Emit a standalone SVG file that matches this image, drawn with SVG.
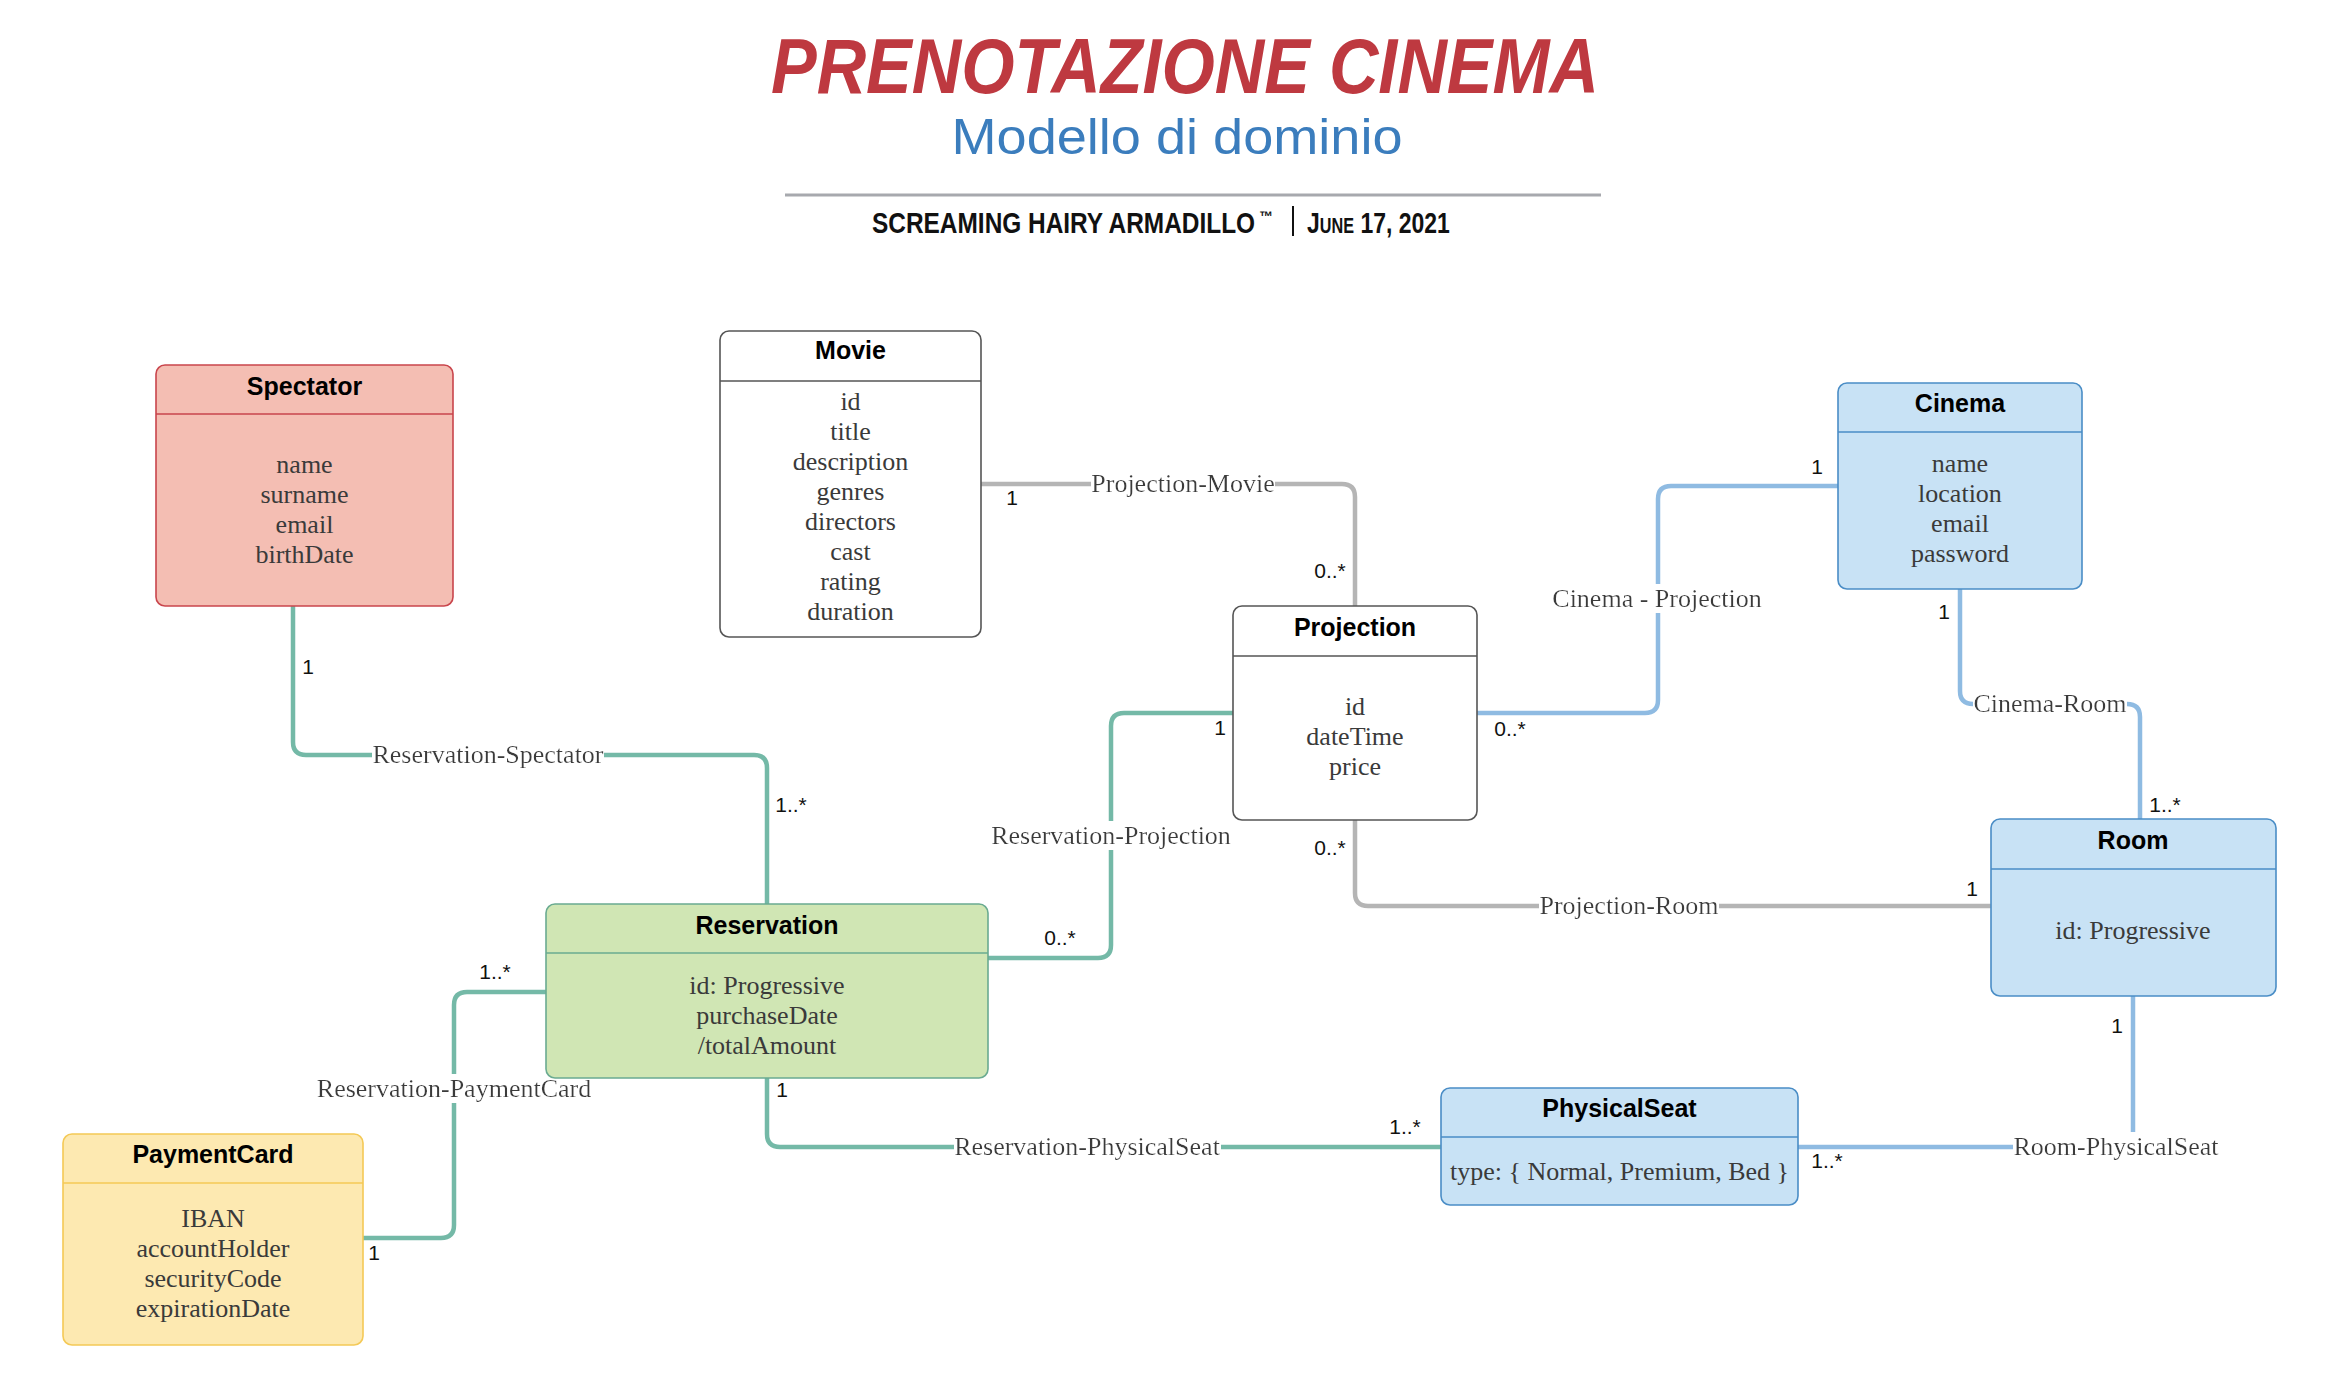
<svg xmlns="http://www.w3.org/2000/svg" width="2348" height="1382" viewBox="0 0 2348 1382">
<style>
.ttl{font-family:"Liberation Sans",Arial,sans-serif;font-weight:bold;font-size:25px;fill:#000;text-anchor:middle}
.att{font-family:"Liberation Serif","Times New Roman",serif;font-size:26px;fill:#3a3a3a;text-anchor:middle}
.lbl{font-family:"Liberation Serif","Times New Roman",serif;font-size:26px;fill:#3a3a3a;text-anchor:middle}
.mul{font-family:"Liberation Sans",Arial,sans-serif;font-size:21px;fill:#111;text-anchor:middle}
.c{fill:none;stroke-width:4.5}
.teal{stroke:#74b9a7}
.grey{stroke:#b5b5b5}
.blue{stroke:#8fbbe2}
.red{fill:#f4beb3;stroke:#c9454c}
.wht{fill:#fff;stroke:#555}
.bl{fill:#c8e2f5;stroke:#4a8dc6}
.grn{fill:#d0e6b4;stroke:#6aab91}
.yel{fill:#fde9b1;stroke:#f4c956}
.box{stroke-width:1.6}
.sub{font-family:"Liberation Sans",Arial,sans-serif;font-weight:bold;fill:#111}
</style>
<defs>
<filter id="bg" x="0" y="0" width="1" height="1"><feFlood flood-color="#ffffff"/><feComposite in="SourceGraphic" operator="over"/></filter>
</defs>
<rect width="2348" height="1382" fill="#fff"/>

<g id="header">
<text x="1185" y="93" font-family="Liberation Sans,Arial,sans-serif" font-weight="bold" font-style="italic" font-size="78" fill="#be3940" text-anchor="middle" textLength="828" lengthAdjust="spacingAndGlyphs">PRENOTAZIONE CINEMA</text>
<text x="1177" y="154" font-family="Liberation Sans,Arial,sans-serif" font-size="50" fill="#3b7dbd" text-anchor="middle" textLength="451" lengthAdjust="spacingAndGlyphs">Modello di dominio</text>
<line x1="785" y1="195" x2="1601" y2="195" stroke="#a7a9ae" stroke-width="3"/>
<g transform="translate(872,233) scale(0.81,1)"><text class="sub" x="0" y="0" font-size="30" textLength="473" lengthAdjust="spacingAndGlyphs">SCREAMING HAIRY ARMADILLO</text></g>
<text class="sub" x="1259" y="221" font-size="14">™</text>
<line x1="1293" y1="206" x2="1293" y2="236" stroke="#111" stroke-width="2"/>
<g transform="translate(1307,233) scale(0.78,1)"><text class="sub" x="0" y="0" font-size="30" font-variant="small-caps" textLength="183" lengthAdjust="spacingAndGlyphs">June 17, 2021</text></g>
</g>

<g id="connectors">
<path class="c grey" d="M981,484 H1342 Q1355,484 1355,497 V606"/>
<path class="c grey" d="M1355,820 V893 Q1355,906 1368,906 H1991"/>
<path class="c blue" d="M1838,486 H1671 Q1658,486 1658,499 V700 Q1658,713 1645,713 H1477"/>
<path class="c blue" d="M1960,589 V691 Q1960,704 1973,704 H2127 Q2140,704 2140,717 V819"/>
<path class="c blue" d="M2133,996 V1134 Q2133,1147 2120,1147 H1798"/>
<path class="c teal" d="M767,1078 V1134 Q767,1147 780,1147 H1441"/>
<path class="c teal" d="M293,606 V742 Q293,755 306,755 H754 Q767,755 767,768 V904"/>
<path class="c teal" d="M988,958 H1098 Q1111,958 1111,945 V726 Q1111,713 1124,713 H1233"/>
<path class="c teal" d="M546,992 H467 Q454,992 454,1005 V1225 Q454,1238 441,1238 H363"/>

<text class="lbl" filter="url(#bg)" x="1183" y="492">Projection-Movie</text>
<text class="lbl" filter="url(#bg)" x="1629" y="914">Projection-Room</text>
<text class="lbl" filter="url(#bg)" x="1657" y="607">Cinema - Projection</text>
<text class="lbl" filter="url(#bg)" x="2050" y="712">Cinema-Room</text>
<text class="lbl" filter="url(#bg)" x="2116" y="1155">Room-PhysicalSeat</text>
<text class="lbl" filter="url(#bg)" x="1087" y="1155">Reservation-PhysicalSeat</text>
<text class="lbl" filter="url(#bg)" x="488" y="763">Reservation-Spectator</text>
<text class="lbl" filter="url(#bg)" x="1111" y="844">Reservation-Projection</text>
<text class="lbl" filter="url(#bg)" x="454" y="1097">Reservation-PaymentCard</text>

<text class="mul" x="1012" y="505">1</text>
<text class="mul" x="1330" y="578">0..*</text>
<text class="mul" x="1330" y="855">0..*</text>
<text class="mul" x="1972" y="896">1</text>
<text class="mul" x="1817" y="474">1</text>
<text class="mul" x="1510" y="736">0..*</text>
<text class="mul" x="1944" y="619">1</text>
<text class="mul" x="2165" y="812">1..*</text>
<text class="mul" x="2117" y="1033">1</text>
<text class="mul" x="1827" y="1168">1..*</text>
<text class="mul" x="782" y="1097">1</text>
<text class="mul" x="1405" y="1134">1..*</text>
<text class="mul" x="308" y="674">1</text>
<text class="mul" x="791" y="812">1..*</text>
<text class="mul" x="1060" y="945">0..*</text>
<text class="mul" x="1220" y="735">1</text>
<text class="mul" x="495" y="979">1..*</text>
<text class="mul" x="374" y="1260">1</text>
</g>

<g id="Spectator">
<rect class="box red" x="156" y="365" width="297" height="241" rx="9"/>
<line class="red" x1="156" y1="414" x2="453" y2="414" stroke-width="1.6"/>
<text class="ttl" x="304.5" y="395">Spectator</text>
<text class="att" x="304.5" y="473">name</text>
<text class="att" x="304.5" y="503">surname</text>
<text class="att" x="304.5" y="533">email</text>
<text class="att" x="304.5" y="563">birthDate</text>
</g>

<g id="Movie">
<rect class="box wht" x="720" y="331" width="261" height="306" rx="9"/>
<line class="wht" x1="720" y1="381" x2="981" y2="381" stroke-width="1.6"/>
<text class="ttl" x="850.5" y="359">Movie</text>
<text class="att" x="850.5" y="410">id</text>
<text class="att" x="850.5" y="440">title</text>
<text class="att" x="850.5" y="470">description</text>
<text class="att" x="850.5" y="500">genres</text>
<text class="att" x="850.5" y="530">directors</text>
<text class="att" x="850.5" y="560">cast</text>
<text class="att" x="850.5" y="590">rating</text>
<text class="att" x="850.5" y="620">duration</text>
</g>

<g id="Projection">
<rect class="box wht" x="1233" y="606" width="244" height="214" rx="9"/>
<line class="wht" x1="1233" y1="656" x2="1477" y2="656" stroke-width="1.6"/>
<text class="ttl" x="1355" y="636">Projection</text>
<text class="att" x="1355" y="715">id</text>
<text class="att" x="1355" y="745">dateTime</text>
<text class="att" x="1355" y="775">price</text>
</g>

<g id="Cinema">
<rect class="box bl" x="1838" y="383" width="244" height="206" rx="9"/>
<line class="bl" x1="1838" y1="432" x2="2082" y2="432" stroke-width="1.6"/>
<text class="ttl" x="1960" y="412">Cinema</text>
<text class="att" x="1960" y="472">name</text>
<text class="att" x="1960" y="502">location</text>
<text class="att" x="1960" y="532">email</text>
<text class="att" x="1960" y="562">password</text>
</g>

<g id="Room">
<rect class="box bl" x="1991" y="819" width="285" height="177" rx="9"/>
<line class="bl" x1="1991" y1="869" x2="2276" y2="869" stroke-width="1.6"/>
<text class="ttl" x="2133" y="849">Room</text>
<text class="att" x="2133" y="939">id: Progressive</text>
</g>

<g id="Reservation">
<rect class="box grn" x="546" y="904" width="442" height="174" rx="9"/>
<line class="grn" x1="546" y1="953" x2="988" y2="953" stroke-width="1.6"/>
<text class="ttl" x="767" y="934">Reservation</text>
<text class="att" x="767" y="994">id: Progressive</text>
<text class="att" x="767" y="1024">purchaseDate</text>
<text class="att" x="767" y="1054">/totalAmount</text>
</g>

<g id="PaymentCard">
<rect class="box yel" x="63" y="1134" width="300" height="211" rx="9"/>
<line class="yel" x1="63" y1="1183" x2="363" y2="1183" stroke-width="1.6"/>
<text class="ttl" x="213" y="1163">PaymentCard</text>
<text class="att" x="213" y="1227">IBAN</text>
<text class="att" x="213" y="1257">accountHolder</text>
<text class="att" x="213" y="1287">securityCode</text>
<text class="att" x="213" y="1317">expirationDate</text>
</g>

<g id="PhysicalSeat">
<rect class="box bl" x="1441" y="1088" width="357" height="117" rx="9"/>
<line class="bl" x1="1441" y1="1137" x2="1798" y2="1137" stroke-width="1.6"/>
<text class="ttl" x="1619.5" y="1117">PhysicalSeat</text>
<text class="att" x="1619.5" y="1180">type: { Normal, Premium, Bed }</text>
</g>
</svg>
